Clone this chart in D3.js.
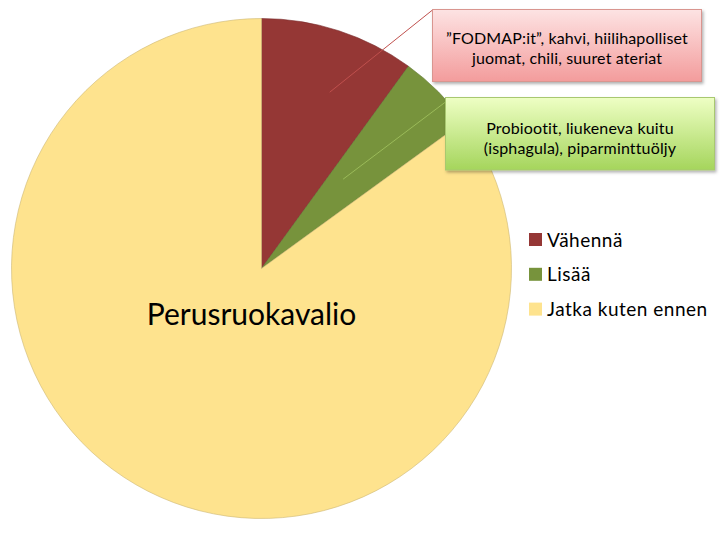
<!DOCTYPE html>
<html>
<head>
<meta charset="utf-8">
<script src="https://cdn.jsdelivr.net/npm/d3@7"></script>
<style>
  html, body { margin: 0; padding: 0; background: #ffffff; }
  svg { display: block; }
  text { font-family: Lato, "Open Sans", sans-serif; fill: #000; }
</style>
</head>
<body>
<svg id="chart" width="720" height="540"></svg>
<script>
// ---- data ----
const categories = ["Vähennä", "Lisää", "Jatka kuten ennen"];
const values = [10, 5, 85];
const colors = ["#953735", "#77933c", "#fee38e"];
const centerLabel = "Perusruokavalio";
const calloutRed = ["”FODMAP:it”, kahvi, hiilihapolliset", "juomat, chili, suuret ateriat"];
const calloutGreen = ["Probiootit, liukeneva kuitu", "(isphagula), piparminttuöljy"];

// ---- layout ----
const svg = d3.select("#chart");
const cx = 261.5, cy = 268.5, R = 250;

const defs = svg.append("defs");
const gr = defs.append("linearGradient").attr("id", "gRed").attr("x1", 0).attr("y1", 0).attr("x2", 0).attr("y2", 1);
gr.append("stop").attr("offset", "0%").attr("stop-color", "#fde3e3");
gr.append("stop").attr("offset", "100%").attr("stop-color", "#f39c9c");
const gg = defs.append("linearGradient").attr("id", "gGreen").attr("x1", 0).attr("y1", 0).attr("x2", 0).attr("y2", 1);
gg.append("stop").attr("offset", "0%").attr("stop-color", "#eeffc4");
gg.append("stop").attr("offset", "100%").attr("stop-color", "#a5d55c");
const f = defs.append("filter").attr("id", "shadow").attr("x", "-10%").attr("y", "-10%").attr("width", "130%").attr("height", "140%");
f.append("feDropShadow").attr("dx", 1.5).attr("dy", 2).attr("stdDeviation", 1.5).attr("flood-color", "#000").attr("flood-opacity", 0.3);

const pie = d3.pie().sort(null).value(d => d)(values);
const arc = d3.arc().innerRadius(0).outerRadius(R);

const g = svg.append("g").attr("transform", `translate(${cx},${cy})`);
g.selectAll("path.slice")
  .data(pie)
  .join("path")
  .attr("class", "slice")
  .attr("d", arc)
  .attr("fill", (d, i) => colors[i])
  .attr("stroke", (d, i) => d3.color(colors[i]).darker(0.6))
  .attr("stroke-width", 0.6);

g.append("text")
  .attr("x", -10)
  .attr("y", 56)
  .attr("text-anchor", "middle")
  .attr("font-size", 30)
  .text(centerLabel);

// callouts: leader start from points inside slices
function polar(angle, r) { return [cx + r * Math.sin(angle), cy - r * Math.cos(angle)]; }
const redMid = (pie[0].startAngle + pie[0].endAngle) / 2;
const greenMid = (pie[1].startAngle + pie[1].endAngle) / 2;
const pRed = polar(redMid + 0.055, 189);
const pGreen = polar(greenMid - 0.045, 121);

svg.append("line")
  .attr("x1", pRed[0]).attr("y1", pRed[1])
  .attr("x2", 432.5).attr("y2", 10)
  .attr("stroke", "#c0504d").attr("stroke-width", 1);
svg.append("line")
  .attr("x1", pGreen[0]).attr("y1", pGreen[1])
  .attr("x2", 445.5).attr("y2", 102)
  .attr("stroke", "#9bbb59").attr("stroke-width", 1);

function callout(x, y, w, h, fill, stroke, lines, baseline) {
  svg.append("rect")
    .attr("x", x).attr("y", y).attr("width", w).attr("height", h)
    .attr("fill", fill).attr("stroke", stroke).attr("stroke-width", 1)
    .attr("filter", "url(#shadow)");
  svg.append("text")
    .attr("text-anchor", "middle")
    .attr("font-size", 16)
    .attr("letter-spacing", 0.15)
    .selectAll("tspan")
    .data(lines)
    .join("tspan")
    .attr("x", x + w / 2)
    .attr("y", (d, i) => baseline + i * 20)
    .text(d => d);
}
callout(432.5, 9.5, 269, 72, "url(#gRed)", "#d9958f", calloutRed, 43.5);
callout(445.5, 97.5, 269, 72.5, "url(#gGreen)", "#a8c870", calloutGreen, 133.5);

// legend
const lg = svg.append("g").attr("transform", "translate(529,233)");
const items = lg.selectAll("g").data(categories).join("g")
  .attr("transform", (d, i) => `translate(0,${i * 34.8})`);
items.append("rect").attr("width", 13).attr("height", 13)
  .attr("fill", (d, i) => colors[i]);
items.append("text").attr("x", 18).attr("y", 13.5).attr("font-size", 19)
  .attr("letter-spacing", 0.5).text(d => d);
</script>
</body>
</html>
